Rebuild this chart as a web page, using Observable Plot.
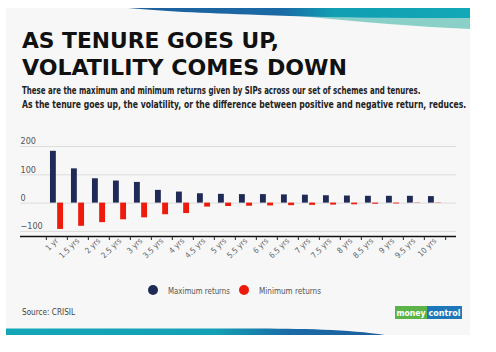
<!DOCTYPE html>
<html>
<head>
<meta charset="utf-8">
<script src="https://cdn.jsdelivr.net/npm/d3@7"></script>
<script src="https://cdn.jsdelivr.net/npm/@observablehq/plot@0.6"></script>
<style>
  html, body { margin: 0; padding: 0; }
  body { width: 496px; height: 352px; position: relative; overflow: hidden; background: #ffffff; font-family: "DejaVu Sans Condensed", "DejaVu Sans", sans-serif; }
  #card { position: absolute; left: 6px; top: 8px; width: 464px; height: 327px; background: #f7f7f7; }
  .abs { position: absolute; }
  #chart { position: absolute; left: 0; top: 120px; }
</style>
</head>
<body>
<div id="card"></div>
<svg class="abs" style="left:0;top:0" width="496" height="120">
  <defs>
    <linearGradient id="topg" x1="0" x2="1" y1="0" y2="0">
      <stop offset="0" stop-color="#1d5f9c"/>
      <stop offset="0.45" stop-color="#1a6aa6"/>
      <stop offset="0.6" stop-color="#119fb3"/>
      <stop offset="1" stop-color="#12a8b6"/>
    </linearGradient>
  </defs>
  <path d="M300,16 C360,18 420,18 470,18 L470,29 C420,27 360,22 300,16 Z" fill="#8ad0c8"/>
  <path d="M128,8 L470,8 L470,18 C400,18 330,18 260,15 C200,13 160,11 128,8 Z" fill="url(#topg)"/>
  <g font-family="'DejaVu Sans Condensed','DejaVu Sans',sans-serif" font-weight="bold" fill="#111">
    <text x="22" y="48" font-size="22" textLength="257" lengthAdjust="spacingAndGlyphs">AS TENURE GOES UP,</text>
    <text x="22" y="75" font-size="22" textLength="325" lengthAdjust="spacingAndGlyphs">VOLATILITY COMES DOWN</text>
  </g>
  <g id="subg" font-family="'DejaVu Sans Condensed','DejaVu Sans',sans-serif" font-weight="bold" fill="#222" font-size="10.5"></g>
</svg>
<div id="chart"></div>
<svg class="abs" style="left:0;top:280px" width="496" height="72">
  <defs>
    <linearGradient id="botg" x1="0" x2="1" y1="0" y2="0">
      <stop offset="0" stop-color="#12a7b6"/>
      <stop offset="0.55" stop-color="#14a0b5"/>
      <stop offset="0.75" stop-color="#1a6aa6"/>
      <stop offset="1" stop-color="#1d5f9c"/>
    </linearGradient>
  </defs>
  <g id="legendg" font-family="'DejaVu Sans Condensed','DejaVu Sans',sans-serif" font-size="9" fill="#555"></g>
  <text x="22" y="35" font-family="'DejaVu Sans Condensed','DejaVu Sans',sans-serif" font-size="9.5" fill="#444" textLength="53" lengthAdjust="spacingAndGlyphs">Source: CRISIL</text>
  <rect x="395" y="26" width="32" height="13" fill="#5cb449"/>
  <rect x="427" y="26" width="35" height="13" fill="#1e77b9"/>
  <text x="411" y="36" text-anchor="middle" font-family="'DejaVu Sans Condensed','DejaVu Sans',sans-serif" font-weight="bold" font-size="9" fill="#fff" textLength="29" lengthAdjust="spacingAndGlyphs">money</text>
  <text x="444.5" y="36" text-anchor="middle" font-family="'DejaVu Sans Condensed','DejaVu Sans',sans-serif" font-weight="bold" font-size="9" fill="#fff" textLength="32" lengthAdjust="spacingAndGlyphs">control</text>
  <path d="M6,48.5 L250,48.5 C300,48.5 350,49.5 385,55 L6,55 Z" fill="url(#botg)"/>
</svg>
<script>
const categories = ["1 yr","1.5 yrs","2 yrs","2.5 yrs","3 yrs","3.5 yrs","4 yrs","4.5 yrs","5 yrs","5.5 yrs","6 yrs","6.5 yrs","7 yrs","7.5 yrs","8 yrs","8.5 yrs","9 yrs","9.5 yrs","10 yrs"];
const maxReturns = [183, 121, 86, 78, 73, 45, 39, 33, 31, 30, 30, 29, 28, 26, 25, 24, 24, 24, 23];
const minReturns = [-93, -82, -69, -59, -52, -41, -37, -14, -12, -11, -10, -9, -8, -7, -6, -4, -3, -1, -1];
const yTicks = [-100, 0, 100, 200];
const seriesNames = ["Maximum returns", "Minimum returns"];
const seriesColors = ["#1f2a56", "#ee1b0c"];
const subtitleLines = [
  "These are the maximum and minimum returns given by SIPs across our set of schemes and tenures.",
  "As the tenure goes up, the volatility, or the difference between positive and negative return, reduces."
];

// subtitle: condensed by a horizontal scale so each line spans its width in the reference
const subg = d3.select("#subg");
const subTargets = [399, 445];
const subBase = [94, 108];
subtitleLines.forEach((line, i) => {
  const g = subg.append("g");
  const t = g.append("text").attr("x", 0).attr("y", 0).text(line);
  const w = t.node().getComputedTextLength();
  g.attr("transform", `translate(22,${subBase[i]}) scale(${subTargets[i] / w},1)`);
});

const rows = categories.map((c, i) => ({cat: c, max: maxReturns[i], min: minReturns[i]}));

const W = 496, H = 160;
const ml = 20, mr = 40, mt = 26, mb = 44;
const insL = 23.3, insR = 7.3;
const bw = (W - ml - mr - insL - insR) / categories.length;
const barW = 6.2, gap = 1;

const chart = Plot.plot({
  width: W,
  height: H,
  marginLeft: ml,
  marginRight: mr,
  marginTop: mt,
  marginBottom: mb,
  style: {background: "transparent", fontFamily: "'DejaVu Sans Condensed','DejaVu Sans',sans-serif"},
  x: {type: "band", domain: categories, padding: 0, insetLeft: insL, insetRight: insR, label: null},
  y: {domain: [-118, 200], label: null},
  marks: [
    Plot.ruleY(yTicks, {stroke: "#dcdcdc", strokeWidth: 1}),
    Plot.barY(rows, {x: "cat", y: "max", fill: seriesColors[0], insetLeft: bw / 2 - gap / 2 - barW, insetRight: bw / 2 + gap / 2}),
    Plot.barY(rows, {x: "cat", y: "min", fill: seriesColors[1], insetLeft: bw / 2 + gap / 2, insetRight: bw / 2 - gap / 2 - barW}),
    Plot.ruleY([-118], {stroke: "#111", strokeWidth: 1.5}),
    Plot.axisX({tickSize: 4, text: null, dx: -bw / 2, stroke: "#222"}),
    Plot.axisX([categories[categories.length - 1]], {tickSize: 4, text: null, dx: bw / 2, stroke: "#222"}),
    Plot.axisX({tickSize: 0, tickPadding: 3, tickRotate: -45, fontSize: 8, fill: "#666", label: null}),
    Plot.axisY(yTicks, {tickSize: 0, tickPadding: 0, textAnchor: "start", dy: -5, fontSize: 9, fill: "#555", label: null})
  ]
});
document.getElementById("chart").appendChild(chart);

// legend
const lg = d3.select("#legendg");
const legendX = [153, 244];
seriesNames.forEach((name, i) => {
  lg.append("circle").attr("cx", legendX[i]).attr("cy", 10).attr("r", 5).attr("fill", seriesColors[i]);
  lg.append("text").attr("x", legendX[i] + 15).attr("y", 13.5)
    .attr("textLength", 62).attr("lengthAdjust", "spacingAndGlyphs").text(name);
});
</script>
</body>
</html>
